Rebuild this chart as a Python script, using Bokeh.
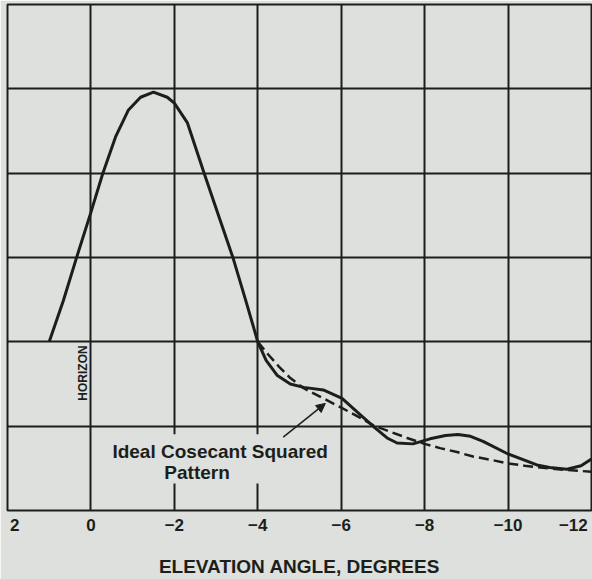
from math import pi
from bokeh.plotting import figure
from bokeh.models import Range1d, FixedTicker, Label, Arrow, NormalHead, BoxAnnotation
from bokeh.embed import file_html
from bokeh.resources import INLINE

# ---- data -------------------------------------------------------------
x_ticks = [2, 0, -2, -4, -6, -8, -10, -12]
tick_labels = ["2", "0", "−2", "−4", "−6", "−8", "−10", "−12"]
y_grid = [0, 1, 2, 3, 4, 5, 6]

actual_x = [1.0, 0.66, 0.35, 0.01, -0.28, -0.59, -0.9, -1.19, -1.5, -1.83,
            -2.0, -2.31, -2.72, -3.1, -3.41, -3.7, -4.0,
            -4.2, -4.47, -4.78, -5.1, -5.57, -6.02, -6.4, -6.81, -7.1, -7.34,
            -7.72, -8.13, -8.5, -8.8, -9.1, -9.4, -10.0, -10.69, -11.0, -11.41,
            -11.75, -12.0]
actual_y = [2.0, 2.49, 2.99, 3.52, 3.99, 4.43, 4.75, 4.9, 4.96, 4.9,
            4.83, 4.6, 3.99, 3.44, 2.99, 2.51, 2.0,
            1.78, 1.6, 1.5, 1.46, 1.43, 1.33, 1.16, 0.98, 0.86, 0.80,
            0.79, 0.85, 0.89, 0.9, 0.88, 0.82, 0.67, 0.54, 0.51, 0.49,
            0.53, 0.61]

ideal_x = [-4.0, -4.25, -4.5, -4.78, -5.1, -5.57, -6.0, -6.38, -6.81, -7.2,
           -7.58, -8.0, -8.37, -8.8, -9.16, -9.6, -9.98, -10.4, -10.77,
           -11.4, -12.0]
ideal_y = [2.0, 1.85, 1.71, 1.57, 1.45, 1.33, 1.22, 1.12, 1.0, 0.93,
           0.86, 0.79, 0.74, 0.69, 0.64, 0.6, 0.56, 0.53, 0.51,
           0.48, 0.46]

PAPER = "#dde0dc"
INK = "#1c1e1c"
FONT = "Liberation Sans"
NB = "\u00a0"

p = figure(width=592, height=579, output_backend="svg", toolbar_location=None,
           x_range=Range1d(2, -12), y_range=Range1d(0, 6),
           y_axis_location=None,
           min_border_left=7, min_border_right=1, min_border_top=4,
           min_border_bottom=0)
p.background_fill_color = PAPER
p.border_fill_color = PAPER
p.outline_line_color = INK
p.outline_line_width = 2

p.xgrid.ticker = FixedTicker(ticks=x_ticks)
p.ygrid.ticker = FixedTicker(ticks=y_grid)
for g in (p.xgrid, p.ygrid):
    g.grid_line_color = INK
    g.grid_line_width = 2
    g.grid_line_alpha = 1.0

ax = p.xaxis[0]
ax.ticker = FixedTicker(ticks=x_ticks)
overrides = {t: lab for t, lab in zip(x_ticks, tick_labels)}
# edge labels sit just inside the frame edges, as in the original
overrides[x_ticks[0]] = NB * 2 + tick_labels[0]
overrides[x_ticks[-1]] = tick_labels[-1] + NB
ax.major_label_overrides = overrides
ax.axis_line_color = None
ax.major_tick_line_color = None
ax.minor_tick_line_color = None
ax.major_tick_out = 0
ax.major_tick_in = 0
ax.minor_tick_out = 0
ax.minor_tick_in = 0
ax.major_label_standoff = 5
ax.major_label_text_font = FONT
ax.major_label_text_font_size = "17px"
ax.major_label_text_font_style = "bold"
ax.major_label_text_color = INK
ax.axis_label = "ELEVATION ANGLE, DEGREES"
ax.axis_label_text_font = FONT
ax.axis_label_text_font_size = "19px"
ax.axis_label_text_font_style = "bold"
ax.axis_label_text_color = INK
ax.axis_label_standoff = 18

p.line(actual_x, actual_y, line_color=INK, line_width=3)
p.line(ideal_x, ideal_y, line_color=INK, line_width=2.5, line_dash="10 5")

# blank area behind the annotation text
p.add_layout(BoxAnnotation(left=-0.35, right=-5.86, bottom=0.32, top=0.905,
                           fill_color=PAPER, fill_alpha=1.0, line_color=None))

p.add_layout(Label(x=-0.515, y=0.70, text="Ideal Cosecant Squared",
                   text_align="left", text_baseline="middle", text_font=FONT,
                   text_font_size="19px", text_font_style="bold", text_color=INK))
p.add_layout(Label(x=-1.76, y=0.45, text="Pattern",
                   text_align="left", text_baseline="middle", text_font=FONT,
                   text_font_size="19px", text_font_style="bold", text_color=INK))
p.add_layout(Label(x=0.18, y=1.63, text="HORIZON", angle=pi / 2,
                   text_align="center", text_baseline="middle", text_font=FONT,
                   text_font_size="12px", text_font_style="bold", text_color=INK))

p.add_layout(Arrow(x_start=-4.61, y_start=0.87, x_end=-5.62, y_end=1.27,
                   line_color=INK, line_width=1.5,
                   end=NormalHead(size=9, fill_color=INK, line_color=INK)))

open("out.html", "w").write(file_html(p, INLINE))
